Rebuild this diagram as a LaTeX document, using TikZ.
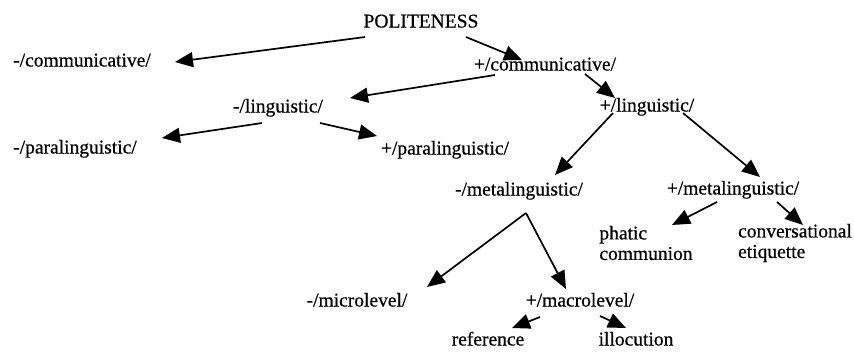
\documentclass[tikz,border=0pt]{standalone}
\usepackage{fontspec}
\setmainfont{Liberation Serif}
\newfontfamily\scanfont{Liberation Serif}[FakeBold=0.6]
\usepackage{tikz}
\usetikzlibrary{calc,arrows.meta}
\tikzset{
  lab/.style={inner sep=0pt, font=\scanfont\fontsize{19.5}{20.5}\selectfont, text height=13pt, text depth=4pt},
  labl/.style={lab, align=left, text height=, text depth=},
  arr/.style={draw=black, line width=1.7pt, -{Triangle[length=18pt,width=15pt]}},
}

\begin{document}
\begin{tikzpicture}[x=1pt,y=-1pt]
  \useasboundingbox (0,0) rectangle (854,351);

  \node[lab] (pol) at (421,23) {POLITENESS};
  \node[lab] (mcom) at (82,62) {-/communicative/};
  \node[lab] (pcom) at (545,66) {+/communicative/};
  \node[lab] (mling) at (278,108) {-/linguistic/};
  \node[lab] (pling) at (647,107) {+/linguistic/};
  \node[lab] (mpara) at (75,149) {-/paralinguistic/};
  \node[lab] (ppara) at (445,150) {+/paralinguistic/};
  \node[lab] (mmeta) at (519,191) {-/metalinguistic/};
  \node[lab] (pmeta) at (733,190) {+/metalinguistic/};
  \node[labl] (phatic) at (646,243) {phatic\\communion};
  \node[labl] (conv) at (795,243) {conversational\\etiquette};
  \node[lab] (mmicro) at (357,302) {-/microlevel/};
  \node[lab] (pmacro) at (580,302) {+/macrolevel/};
  \node[lab] (ref) at (488,341) {reference};
  \node[lab] (illoc) at (636,341) {illocution};

  % first split
  \draw[arr] ($(pol)+(-56,14)$) -- ($(mcom)+(93,0)$);
  \draw[arr] ($(pol)+(45,14)$) -- ($(pcom)+(-23,-6)$);
  \draw[arr] ($(pcom)+(-50,9)$) -- ($(mling)+(72,-10)$);
  \draw[arr] ($(pcom)+(40,8)$) -- ($(pling)+(-32,-9)$);
  \draw[arr] ($(mling)+(-16,15)$) -- ($(mpara)+(87,-11)$);
  \draw[arr] ($(mling)+(42,15)$) -- ($(ppara)+(-68,-14)$);
  \draw[arr] ($(pling)+(-34,6)$) -- ($(mmeta)+(36,-16)$);
  \draw[arr] ($(pling)+(36,6)$) -- ($(pmeta)+(27,-13)$);
  % lower levels
  \draw[arr] ($(mmeta)+(7,22)$) -- ($(mmicro)+(70,-15)$);
  \draw[arr] ($(mmeta)+(7,22)$) -- ($(pmacro)+(-14,-13)$);
  \draw[arr] ($(pmeta)+(-16,12)$) -- ($(phatic)+(26,-18)$);
  \draw[arr] ($(pmeta)+(44,12)$) -- ($(conv)+(8,-18)$);
  \draw[arr] ($(pmacro)+(-40,15)$) -- ($(ref)+(24,-13)$);
  \draw[arr] ($(pmacro)+(20,14)$) -- ($(illoc)+(-10,-13)$);
\end{tikzpicture}
\end{document}
